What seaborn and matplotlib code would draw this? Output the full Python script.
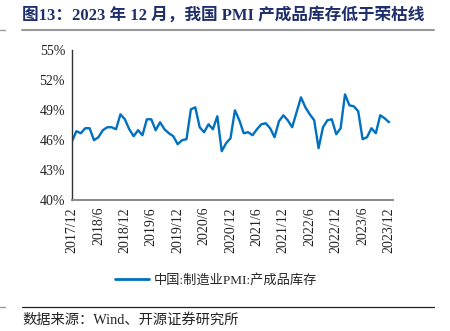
import matplotlib
matplotlib.use("Agg")
import matplotlib.pyplot as plt
import seaborn as sns
import pandas as pd
from matplotlib.lines import Line2D

months = pd.period_range("2017-12", "2023-12", freq="M")
values = [
    45.9,
    46.9, 46.7, 47.2, 47.2, 46.0, 46.3, 47.0, 47.3, 47.3, 47.1, 48.6, 48.1,
    47.1, 46.4, 47.0, 46.5, 48.1, 48.1, 47.0, 47.8, 47.1, 46.7, 46.4, 45.6,
    46.0, 46.1, 49.1, 49.3, 47.3, 46.8, 47.6, 47.1, 48.4, 44.9, 45.7, 46.2,
    49.0, 48.0, 46.7, 46.8, 46.5, 47.1, 47.6, 47.7, 47.2, 46.3, 47.9, 48.5,
    48.0, 47.3, 48.8, 50.3, 49.3, 48.6, 48.0, 45.2, 47.3, 48.0, 48.1, 46.6,
    47.2, 50.6, 49.5, 49.4, 48.9, 46.1, 46.3, 47.2, 46.7, 48.5, 48.2, 47.8,
]
series_name = "中国:制造业PMI:产成品库存"
tick_labels = ["2017/12", "2018/6", "2018/12", "2019/6", "2019/12", "2020/6",
               "2020/12", "2021/6", "2021/12", "2022/6", "2022/12", "2023/6", "2023/12"]
y_ticks = [40, 43, 46, 49, 52, 55]
title = "图13：2023 年 12 月，我国 PMI 产成品库存低于荣枯线"
source = "数据来源：Wind、开源证券研究所"

sns.set_theme(style="white")
fam = ["Liberation Serif", "Noto Sans CJK SC", "DejaVu Sans"]
plt.rcParams["font.family"] = fam

df = pd.DataFrame({"idx": range(len(values)), "value": values, "series": series_name})

fig = plt.figure(figsize=(4.5, 3.31), dpi=100)
ax = fig.add_axes([72/450, 1-200/331, (393-72)/450, (200-50.5)/331])

sns.lineplot(data=df, x="idx", y="value", ax=ax, color="#0070C0", linewidth=1.7, legend=False)

ax.set_xlim(0, 72.9)
ax.set_ylim(40, 55)
ax.set_xticks(range(0, 73, 6))
ax.set_xticklabels(tick_labels, rotation=90, fontsize=10, color="#222222")
ax.set_yticks(y_ticks)
ax.set_yticklabels([f"{v}%" for v in y_ticks], fontsize=10, color="#222222")
ax.set_xlabel("")
ax.set_ylabel("")
ax.tick_params(axis="both", direction="in", length=4, width=0.9, colors="#777777",
               labelcolor="#222222", pad=3)
ax.tick_params(axis="x", pad=5)
ax.tick_params(axis="y", pad=5)
for s in ["top", "right"]:
    ax.spines[s].set_visible(False)
ax.spines["left"].set_color("#333333")
ax.spines["left"].set_linewidth(1.0)
ax.spines["bottom"].set_color("#888888")
ax.spines["bottom"].set_linewidth(1.4)

handle = Line2D([0], [0], color="#0070C0", linewidth=2.0)
fig.legend([handle], [series_name], loc="center", bbox_to_anchor=(216/450, 1-280/331),
           frameon=False, handlelength=2.6, handletextpad=0.3,
           prop={"family": fam, "size": 9.5})

fig.text(22/450, 1-15/331, title, fontsize=12, fontweight="bold", color="#1F2F6B",
         va="center", ha="left", family=fam)
fig.add_artist(Line2D([22/450, 434/450], [1-30/331, 1-30/331], color="#999999", linewidth=1.5))
fig.add_artist(Line2D([0, 5/450], [1-30/331, 1-30/331], color="#999999", linewidth=1.0))
fig.add_artist(Line2D([22/450, 434/450], [1-307/331, 1-307/331], color="#222222", linewidth=0.9))
fig.add_artist(Line2D([0, 5/450], [1-307/331, 1-307/331], color="#999999", linewidth=1.0))
fig.text(22/450, 1-320/331, source, fontsize=10.3, color="#222222", va="center", ha="left", family=fam)

fig.savefig("out.png", dpi=100)
